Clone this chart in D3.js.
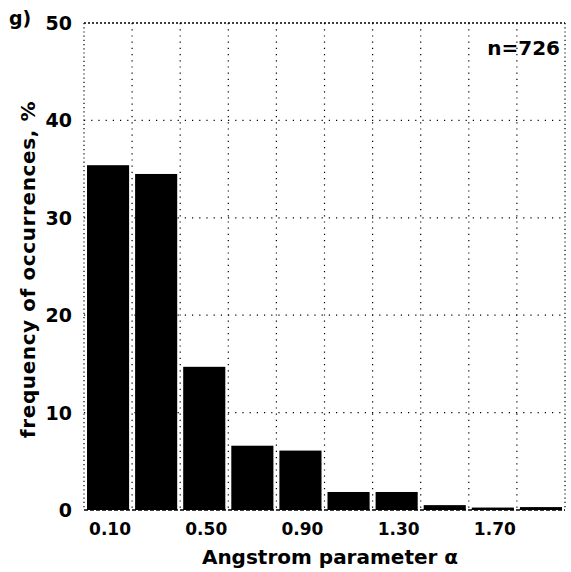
<!DOCTYPE html>
<html>
<head>
<meta charset="utf-8">
<script src="https://cdn.jsdelivr.net/npm/d3@7"></script>
<style>
  body { margin: 0; background: #fff; }
  text { font-family: "DejaVu Sans", sans-serif; font-weight: bold; fill: #000; }
</style>
</head>
<body>
<svg id="chart" width="571" height="572"></svg>
<script>
// bin centres of the Angstrom parameter histogram
var binCenters = [0.1, 0.3, 0.5, 0.7, 0.9, 1.1, 1.3, 1.5, 1.7, 1.9];
var frequency = [35.4, 34.5, 14.7, 6.6, 6.1, 1.85, 1.85, 0.5, 0.25, 0.3];
var xTickValues = [0.1, 0.5, 0.9, 1.3, 1.7];
var yTickValues = [0, 10, 20, 30, 40, 50];
var gridX = [0.2, 0.4, 0.6, 0.8, 1.0, 1.2, 1.4, 1.6, 1.8];
var gridY = [10, 20, 30, 40];

var svg = d3.select("#chart");

// note: "top" is taken by window.top, so plot edges get their own names
var plotLeft = 84, plotRight = 565, plotTop = 23, plotBottom = 510;
var binWidth = 0.2;

var x = d3.scaleLinear().domain([0, 2]).range([plotLeft, plotRight]);
var y = d3.scaleLinear().domain([0, 50]).range([plotBottom, plotTop]);

var g = svg.append("g");

// dotted grid
g.selectAll(".gridX")
    .data(gridX)
    .enter()
    .append("line")
    .attr("class", "gridX")
    .attr("x1", function(d){return x(d);})
    .attr("x2", function(d){return x(d);})
    .attr("y1", y(50))
    .attr("y2", y(0))
    .attr("stroke", "#000")
    .attr("stroke-width", 1.2)
    .attr("stroke-dasharray", "1.2,5");

g.selectAll(".gridY")
    .data(gridY)
    .enter()
    .append("line")
    .attr("class", "gridY")
    .attr("x1", x(0))
    .attr("x2", x(2))
    .attr("y1", function(d){return y(d);})
    .attr("y2", function(d){return y(d);})
    .attr("stroke", "#000")
    .attr("stroke-width", 1.2)
    .attr("stroke-dasharray", "1.2,6");

// bars
g.selectAll(".bar")
    .data(frequency)
    .enter()
    .append("rect")
    .attr("class", "bar")
    .attr("x", function(d, i){return x(binCenters[i] - binWidth / 2) + 3;})
    .attr("width", function(d, i){return x(binCenters[i] + binWidth / 2) - x(binCenters[i] - binWidth / 2) - 6;})
    .attr("y", function(d){return y(d);})
    .attr("height", function(d){return y(0) - y(d);})
    .attr("fill", "#000");

// frame: dotted left/top/right, dashed bottom
g.append("line")
    .attr("x1", x(0)).attr("x2", x(0)).attr("y1", y(50)).attr("y2", y(0))
    .attr("stroke", "#000").attr("stroke-width", 1.2).attr("stroke-dasharray", "1.2,3");
g.append("line")
    .attr("x1", x(0)).attr("x2", x(2)).attr("y1", y(50)).attr("y2", y(50))
    .attr("stroke", "#000").attr("stroke-width", 1.3).attr("stroke-dasharray", "2,2");
g.append("line")
    .attr("x1", x(2)).attr("x2", x(2)).attr("y1", y(50)).attr("y2", y(0))
    .attr("stroke", "#000").attr("stroke-width", 1.2).attr("stroke-dasharray", "1.2,3");
g.append("line")
    .attr("x1", x(0)).attr("x2", x(2)).attr("y1", y(0)).attr("y2", y(0))
    .attr("stroke", "#000").attr("stroke-width", 1.5).attr("stroke-dasharray", "4,2");

// y tick labels
g.selectAll(".yTick")
    .data(yTickValues)
    .enter()
    .append("text")
    .attr("class", "yTick")
    .attr("x", 72)
    .attr("y", function(d){return y(d) + 7;})
    .attr("text-anchor", "end")
    .attr("font-size", 19)
    .text(function(d){return d;});

// x tick labels
g.selectAll(".xTick")
    .data(xTickValues)
    .enter()
    .append("text")
    .attr("class", "xTick")
    .attr("x", function(d){return x(d) + 2;})
    .attr("y", 535)
    .attr("text-anchor", "middle")
    .attr("font-size", 17)
    .text(function(d){return d3.format(".2f")(d);});

// panel letter
svg.append("text")
    .attr("x", 9)
    .attr("y", 25)
    .attr("font-size", 19)
    .text("g)");

// sample count
svg.append("text")
    .attr("x", 560)
    .attr("y", 55)
    .attr("text-anchor", "end")
    .attr("font-size", 20)
    .text("n=726");

// axis titles
svg.append("text")
    .attr("x", 330)
    .attr("y", 564)
    .attr("text-anchor", "middle")
    .attr("font-size", 20)
    .text("Angstrom parameter α");

svg.append("text")
    .attr("transform", "translate(35," + ((plotTop + plotBottom) / 2 + 3) + ") rotate(-90)")
    .attr("text-anchor", "middle")
    .attr("font-size", 20)
    .attr("letter-spacing", 0.6)
    .text("frequency of occurrences, %");
</script>
</body>
</html>
